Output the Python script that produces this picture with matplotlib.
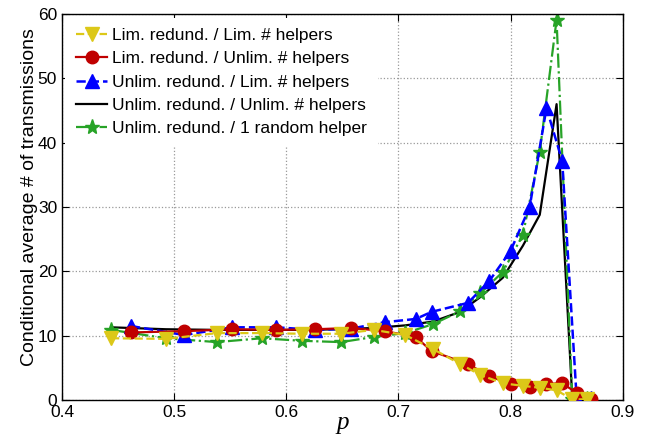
import numpy as np
import matplotlib
matplotlib.use("Agg")
import matplotlib.pyplot as plt

plt.rcParams['font.family'] = ['Liberation Sans', 'DejaVu Sans']

# x grids (two sets of p values)
p_a = [0.4437, 0.4927, 0.538, 0.578, 0.614, 0.649, 0.678, 0.706, 0.731,
       0.755, 0.773, 0.793, 0.811, 0.826, 0.841, 0.855, 0.868]
p_b = [0.4615, 0.509, 0.5515, 0.591, 0.626, 0.658, 0.688, 0.7155, 0.7295,
       0.762, 0.781, 0.800, 0.817, 0.832, 0.846, 0.859, 0.872]

# series values
lim_lim = [9.6, 9.5, 10.4, 10.4, 10.3, 10.3, 10.9, 10.1, 7.9,
           5.6, 3.9, 2.6, 2.2, 1.9, 1.5, 0.1, 0.1]
lim_unlim = [10.5, 10.7, 11.0, 10.9, 11.0, 11.2, 10.7, 9.8, 7.6,
             5.6, 3.7, 2.5, 2.0, 2.5, 2.6, 1.1, 0.1]
unlim_lim = [11.5, 10.1, 11.3, 11.3, 10.9, 11.1, 12.1, 12.6, 13.7,
             15.1, 18.5, 23.2, 30.0, 45.4, 37.2, 0.0, 0.3]
unlim_unlim = [11.3, 11.0, 10.9, 10.9, 10.9, 11.0, 11.2, 11.6, 12.2,
               13.7, 16.0, 19.0, 24.0, 28.8, 46.0, 0.3, 0.1]
one_random = [10.9, 9.6, 9.0, 9.6, 9.2, 9.0, 9.8, 10.4, 11.8,
              13.8, 16.6, 19.9, 25.7, 38.6, 59.1, 0.2, 0.1]

labels = ['Lim. redund. / Lim. # helpers',
          'Lim. redund. / Unlim. # helpers',
          'Unlim. redund. / Lim. # helpers',
          'Unlim. redund. / Unlim. # helpers',
          'Unlim. redund. / 1 random helper']

fig = plt.figure(figsize=(6.46, 4.41), dpi=100)
ax = fig.add_axes([0.096, 0.093, 0.868, 0.875])

yel = '#dcc818'
red = '#c00000'
blu = '#0000ff'
grn = '#27a327'

h1, = ax.plot(p_a, lim_lim, '--v', color=yel, mfc=yel, mec=yel, lw=1.6, ms=10, zorder=5)
h2, = ax.plot(p_b, lim_unlim, '-o', color=red, mfc=red, mec=red, lw=1.6, ms=9, zorder=4)
h3, = ax.plot(p_b, unlim_lim, '--^', color=blu, mfc=blu, mec=blu, lw=1.8, ms=10, zorder=3)
h4, = ax.plot(p_a, unlim_unlim, '-', color='black', lw=1.6, zorder=2)
h5, = ax.plot(p_a, one_random, '-.*', color=grn, mfc=grn, mec=grn, lw=1.6, ms=11, zorder=2.5)

ax.set_xlim(0.4, 0.9)
ax.set_ylim(0, 60)
ax.set_xticks(np.arange(0.4, 0.91, 0.1))
ax.set_xticklabels(['0.4', '0.5', '0.6', '0.7', '0.8', '0.9'])
ax.set_yticks(np.arange(0, 61, 10))
ax.tick_params(direction='in', top=True, right=True, labelsize=12.5, length=5)
ax.grid(True, linestyle=':', color='#999999', lw=0.9)
for s in ax.spines.values():
    s.set_linewidth(1.0)

ax.set_xlabel('p', fontsize=18, fontstyle='italic', family='Liberation Serif', labelpad=-6)
ax.set_ylabel('Conditional average # of transmissions', fontsize=14)
ax.yaxis.set_label_coords(-0.043, 0.525)

leg = ax.legend([h1, h2, h3, h4, h5], labels, loc='upper left', fontsize=12.5,
                frameon=True, fancybox=False, edgecolor='none', framealpha=1,
                borderaxespad=0.2, handlelength=1.8, handletextpad=0.3,
                labelspacing=0.47, borderpad=0.6)

fig.savefig('out.png', dpi=100)
